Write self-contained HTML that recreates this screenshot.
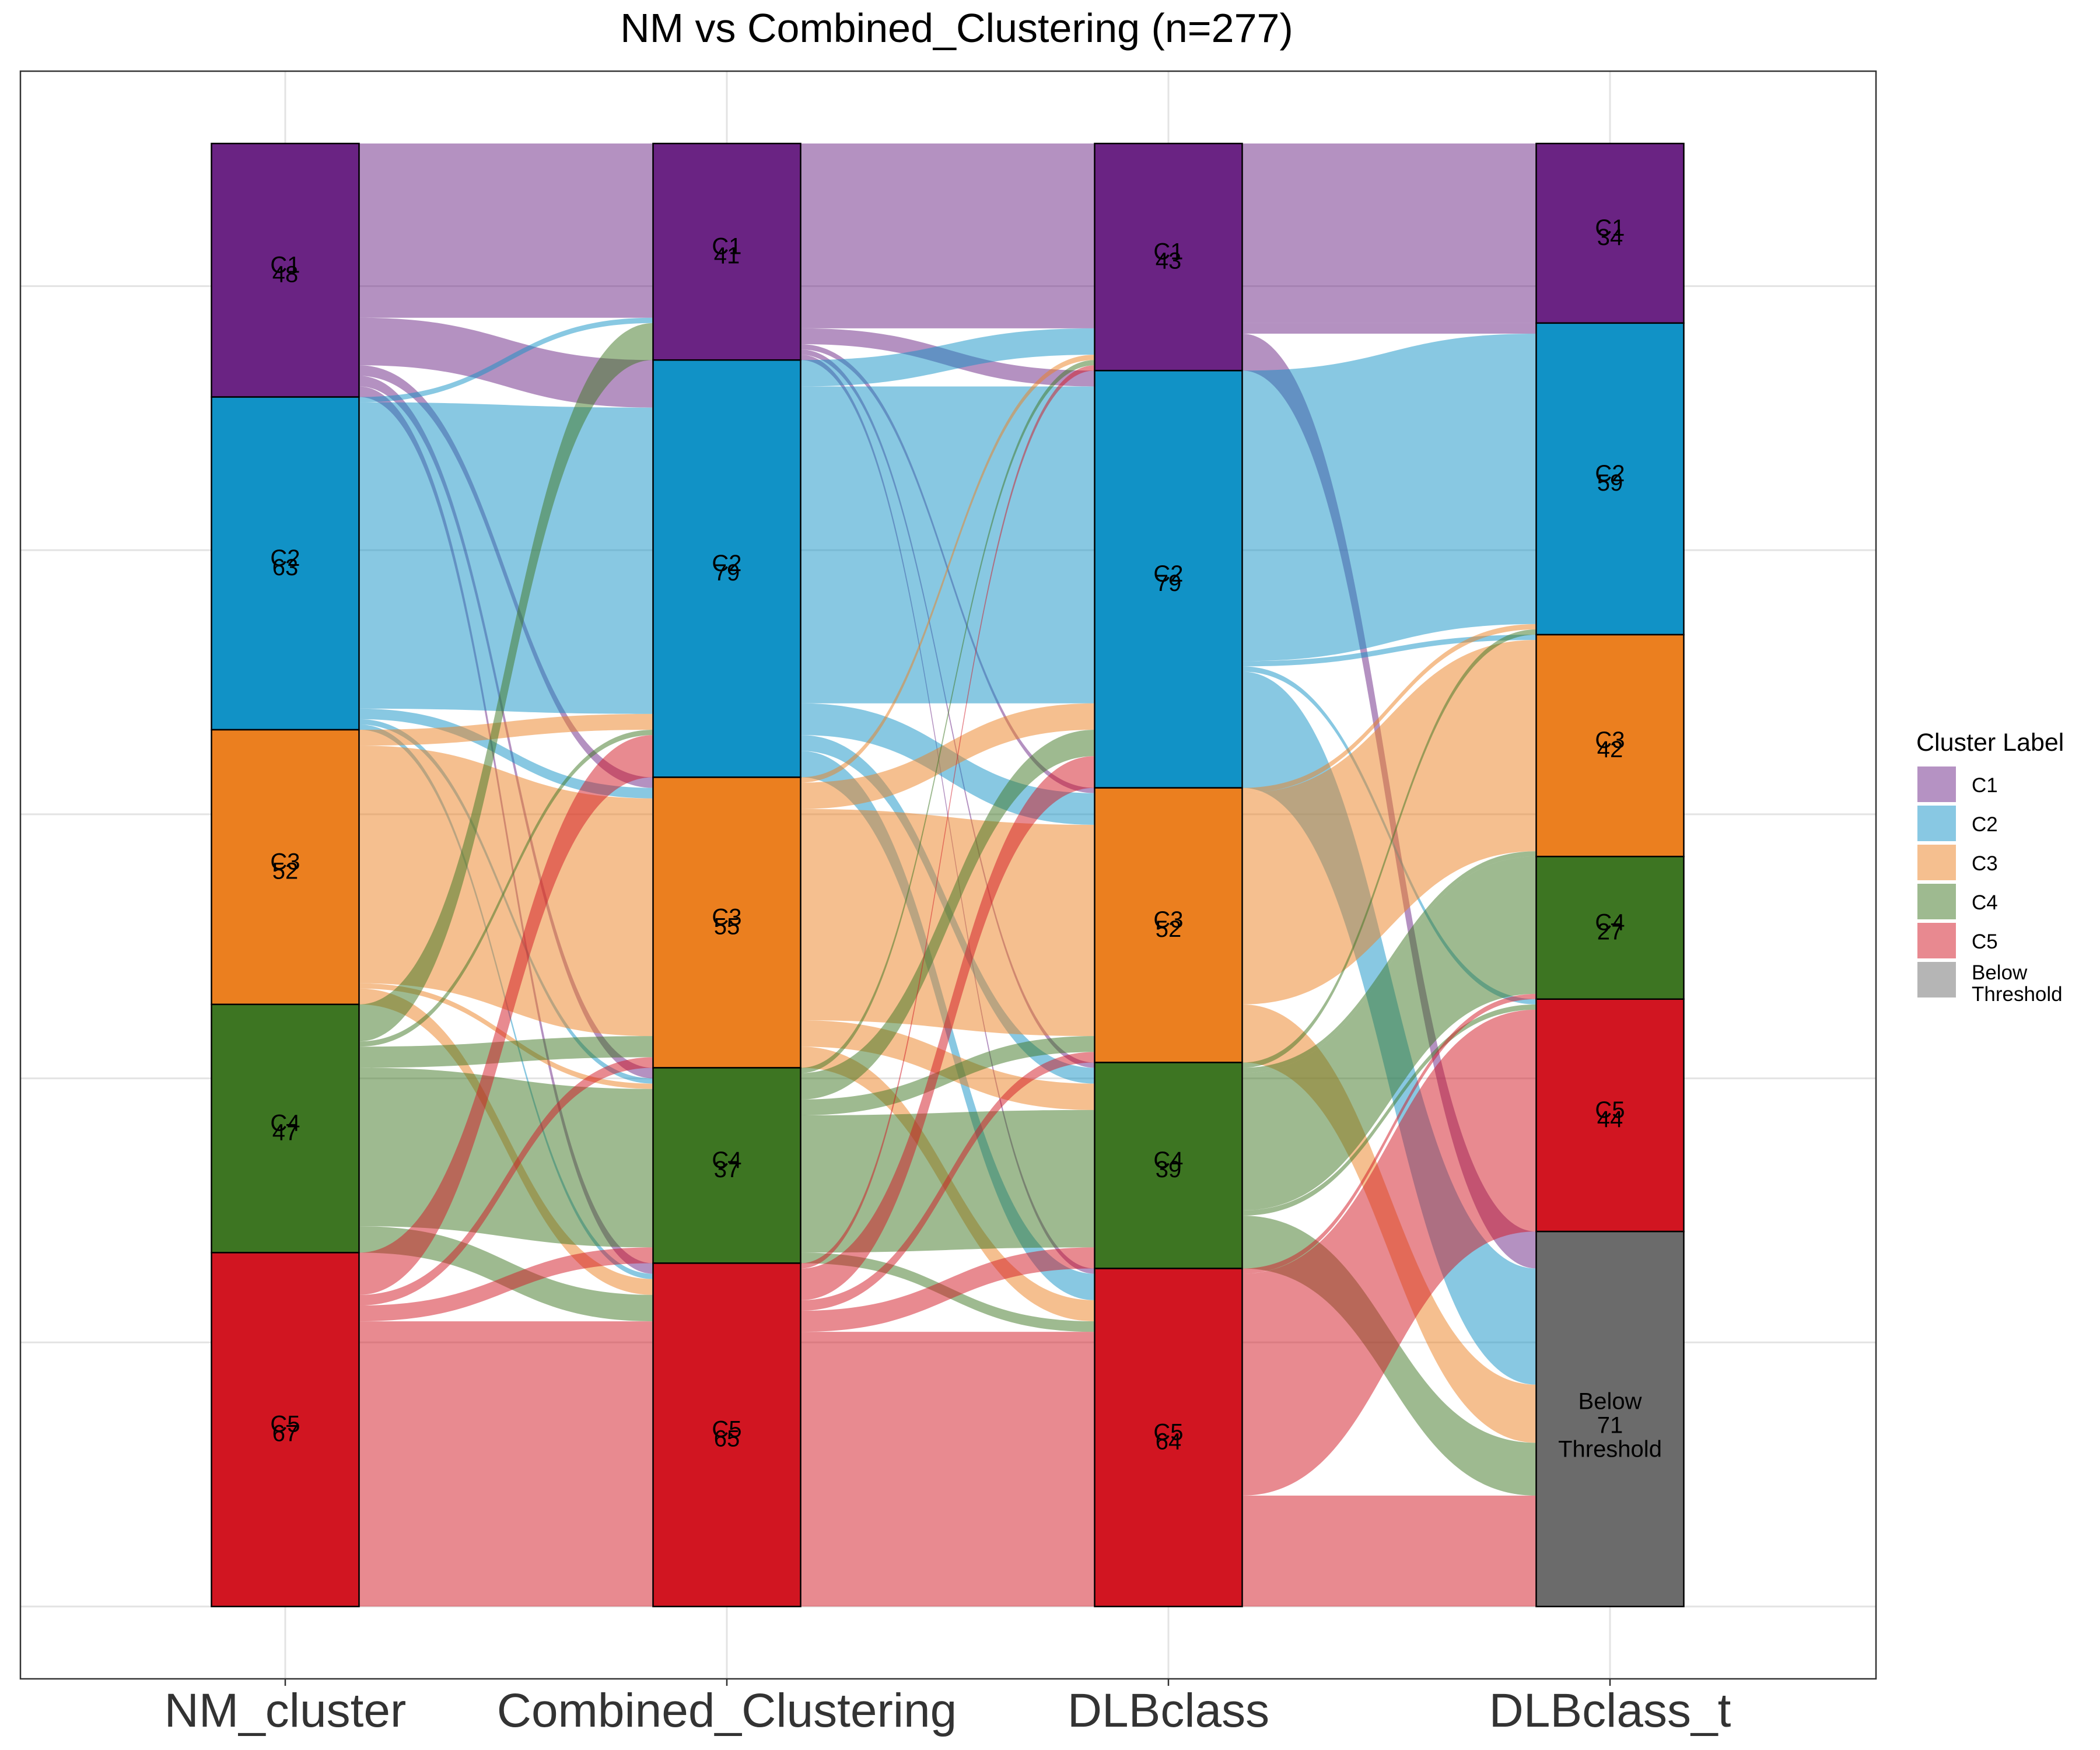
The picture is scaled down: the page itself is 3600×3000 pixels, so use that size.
<!DOCTYPE html>
<html><head><meta charset="utf-8"><style>
html,body{margin:0;padding:0;background:#fff}
svg{display:block;font-family:"Liberation Sans",Arial,sans-serif}
</style></head><body>
<svg id="chart" width="3600" height="3000" viewBox="0 0 3600 3000" xmlns="http://www.w3.org/2000/svg">
<rect x="0" y="0" width="3600" height="3000" fill="#fff"/>
<text x="1640" y="72" font-size="70" text-anchor="middle" fill="#000">NM vs Combined_Clustering (n=277)</text>
<g id="grid"></g>
<g id="flows"></g>
<g id="strata"></g>
<rect x="35" y="122" width="3181" height="2756" fill="none" stroke="#333" stroke-width="2.5"/>
<g id="xlabels"></g>
<g id="legend">
<text x="3285" y="1287" font-size="43" fill="#000">Cluster Label</text>
</g>
</svg>
<script>
const axes = ["NM_cluster","Combined_Clustering","DLBclass","DLBclass_t"];
const strataNames = ["C1","C2","C3","C4","C5","Below Threshold"];
const countsNM = [48,63,52,47,67];
const countsComb = [41,79,55,37,65];
const countsDLB = [43,79,52,39,64];
const countsDLBt = [34,59,42,27,44,0,71];
const flowNMtoComb = [[33,9,2,2,2],[1,58,2,1,1],[0,3,45,1,3],[7,1,4,30,5],[0,8,2,3,54]];
const flowCombToDLB = [[35,3,1,1,1],[5,60,6,3,5],[1,5,40,5,4],[1,5,3,26,2],[1,6,2,4,52]];
const flowDLBtoDLBt = [[34,2,0,0,0,7],[0,55,1,0,1,22],[0,1,40,0,0,11],[0,1,1,26,1,10],[0,0,0,1,42,21]];
const gridTicks = [0,50,100,150,200,250];

const barCol = ["#6A2383","#1192C6","#EB7F1F","#3D7522","#D11521","#6B6B6B"];
const flowCol = ["#B592C3","#88C8E3","#F5BF8F","#9EBA90","#E88990","#B5B5B5"];
const NS="http://www.w3.org/2000/svg";
const total=277, yBot=2754, yTop=246;
const yScale = v => yBot - (v/total)*(yBot-yTop);
const xCenters=[489,1246,2003,2760], bw=253;
const xScale = i => xCenters[i];
function mk(tag,attrs,parent){const e=document.createElementNS(NS,tag);for(const k in attrs)e.setAttribute(k,attrs[k]);parent.appendChild(e);return e;}

const grid=document.getElementById('grid');
gridTicks.forEach(t=>{
  const l=mk('line',{x1:35,x2:3216,y1:yScale(t),y2:yScale(t),stroke:'#e3e3e3','stroke-width':3},grid);
  
  
});
xCenters.forEach((x,i)=>{
  const l=mk('line',{x1:x,x2:x,y1:122,y2:2878,stroke:'#e3e3e3','stroke-width':3},grid);
  
  
  const tk=mk('line',{x1:x,x2:x,y1:2878,y2:2890,stroke:'#333','stroke-width':2.5},grid);
  
  
});

const allCounts=[countsNM,countsComb,countsDLB,[countsDLBt[0],countsDLBt[1],countsDLBt[2],countsDLBt[3],countsDLBt[4],countsDLBt[6]]];
const strataIdx=[[0,1,2,3,4],[0,1,2,3,4],[0,1,2,3,4],[0,1,2,3,4,5]];
const tops=allCounts.map(c=>{let acc=0;return c.map(v=>{const t=acc;acc+=v;return t;});});
const yTopOf = cum => yScale(total-cum);

const flows=document.getElementById('flows');
const mats=[flowNMtoComb,flowCombToDLB,flowDLBtoDLBt];
mats.forEach((m,a)=>{
  const nS=m.length,nT=m[0].length;
  const outOff=tops[a].slice(), inOff=tops[a+1].slice();
  const segs=[];
  for(let s=0;s<nS;s++)for(let t=0;t<nT;t++){
    const v=m[s][t]; if(!v) continue;
    segs.push({s,t,v,y0:outOff[s]}); outOff[s]+=v;
  }
  const inPos={};
  for(let t=0;t<nT;t++)for(let s=0;s<nS;s++){
    const v=m[s][t]; if(!v) continue;
    inPos[s+'_'+t]=inOff[t]; inOff[t]+=v;
  }
  const x0=xScale(a)+bw/2,x1=xScale(a+1)-bw/2,xm=(x0+x1)/2;
  segs.forEach(g=>{
    const sa=yTopOf(g.y0),sb=yTopOf(g.y0+g.v);
    const ta=yTopOf(inPos[g.s+'_'+g.t]),tb=yTopOf(inPos[g.s+'_'+g.t]+g.v);
    const d=`M${x0},${sa} C${xm},${sa} ${xm},${ta} ${x1},${ta} L${x1},${tb} C${xm},${tb} ${xm},${sb} ${x0},${sb} Z`;
    const p=mk('path',{d,fill:barCol[g.s],'fill-opacity':0.5},flows);
    
    
  });
});

const strata=document.getElementById('strata');
allCounts.forEach((c,a)=>{
  c.forEach((v,i)=>{
    const k=strataIdx[a][i];
    const y0=yTopOf(tops[a][i]),y1=yTopOf(tops[a][i]+v);
    const r=mk('rect',{x:xScale(a)-bw/2,y:y0,width:bw,height:y1-y0,fill:barCol[k],stroke:'#000','stroke-width':2.5},strata);
    
    
    const cy=(y0+y1)/2;
    if(k===5){
      const t1=mk('text',{x:xScale(a),y:cy-17,'font-size':40,'text-anchor':'middle',fill:'#000'},strata);
      t1.textContent='Below';
      
      
      const t2=mk('text',{x:xScale(a),y:cy+65,'font-size':40,'text-anchor':'middle',fill:'#000'},strata);
      t2.textContent='Threshold';
      
      
      const t3=mk('text',{x:xScale(a),y:cy+24,'font-size':40,'text-anchor':'middle',fill:'#000'},strata);
      t3.textContent=v;
      
      
    } else {
      const t1=mk('text',{x:xScale(a),y:cy+4,'font-size':40,'text-anchor':'middle',fill:'#000'},strata);
      t1.textContent=strataNames[k];
      
      
      const t2=mk('text',{x:xScale(a),y:cy+20,'font-size':40,'text-anchor':'middle',fill:'#000'},strata);
      t2.textContent=v;
      
      
    }
  });
});

const xl=document.getElementById('xlabels');
axes.forEach((n,i)=>{
  const t=mk('text',{x:xScale(i),y:2960,'font-size':82,'text-anchor':'middle',fill:'#333'},xl);
  t.textContent=n;
  
  
});

const lg=document.getElementById('legend');
strataNames.forEach((n,i)=>{
  const y=1314+i*67;
  const r=mk('rect',{x:3287,y:y,width:66,height:61,fill:flowCol[i]},lg);
  
  
  if(i===5){
    const a=mk('text',{x:3380,y:y+30,'font-size':35,fill:'#000'},lg);a.textContent='Below';
    
    
    const b=mk('text',{x:3380,y:y+67,'font-size':35,fill:'#000'},lg);b.textContent='Threshold';
    
    
  } else {
    const t=mk('text',{x:3380,y:y+44,'font-size':35,fill:'#000'},lg);t.textContent=n;
    
    
  }
});
</script>
</body></html>
